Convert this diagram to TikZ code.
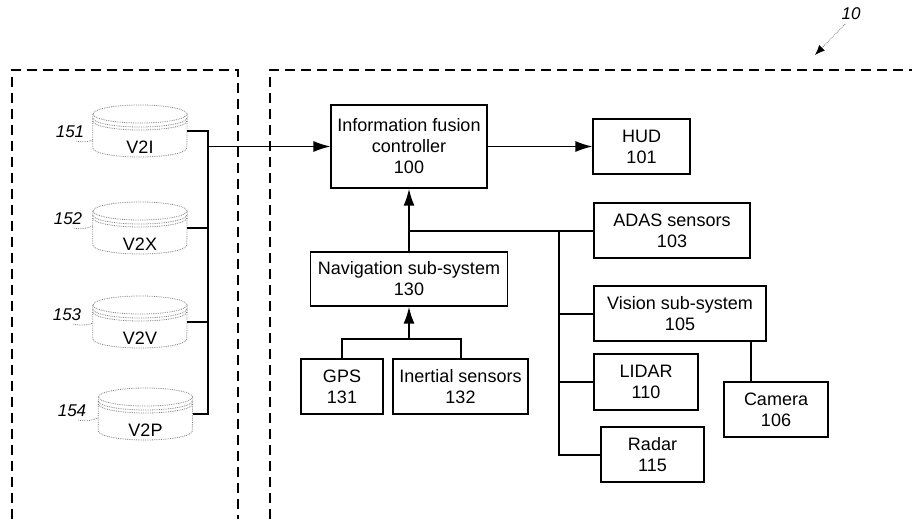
\documentclass[tikz,border=0pt]{standalone}
\usepackage{fontspec}
\setmainfont{Liberation Sans}
\usetikzlibrary{arrows.meta}
\begin{document}
\begin{tikzpicture}[x=1pt,y=-1pt,
 box/.style={draw, line width=1.2pt, align=center, inner sep=0pt, font=\fontsize{18}{21}\selectfont},
 conn/.style={line width=2pt},
 arr/.style={line width=1.3pt, -{Latex[length=17pt,width=11pt]}},
 tarr/.style={line width=2pt, -{Latex[length=17pt,width=11pt]}},
 frame/.style={line width=1.3pt, dash pattern=on 10pt off 6pt},
 cyl/.style={draw=gray, densely dotted, line width=0.8pt},
 cylnode/.style={minimum width=94pt, minimum height=52pt, inner sep=0pt},
 cyltext/.style={font=\fontsize{18}{21}\selectfont},
 ref/.style={font=\fontsize{17}{20}\selectfont\itshape, inner sep=0pt},
 leader/.style={draw=gray, densely dotted, line width=0.8pt}]
\useasboundingbox (0,0) rectangle (912,519);

% frames
\draw[frame] (12,519) -- (12,70) -- (238,70) -- (238,519);
\draw[frame] (270,519) -- (270,70) -- (912,70);

% cylinders
\node[cylnode, label={[cyltext, yshift=-16pt]center:V2I}] (v2i) at (140,131) {};
\node[cylnode, label={[cyltext, yshift=-16pt]center:V2X}] (v2x) at (140,228) {};
\node[cylnode, label={[cyltext, yshift=-16pt]center:V2V}] (v2v) at (140,322) {};
\node[cylnode, label={[cyltext, yshift=-16pt]center:V2P}] (v2p) at (145.5,414) {};
\foreach \n in {v2i,v2x,v2v,v2p}{
  \draw[cyl] ([yshift=17pt]\n.center) ellipse [x radius=47pt, y radius=9pt];
  \draw[cyl] ([yshift=17pt]\n.west) -- ([yshift=-17pt]\n.west)
     arc[start angle=180, end angle=360, x radius=47pt, y radius=9pt]
     -- ([yshift=17pt]\n.east);
  \draw[cyl] ([yshift=13pt]\n.west) arc[start angle=180, end angle=360, x radius=47pt, y radius=9pt];
  \draw[cyl] ([yshift=10pt]\n.west) arc[start angle=180, end angle=360, x radius=47pt, y radius=9pt];
}

% reference labels
\node[ref] (l151) at (70,132) {151};
\node[ref] (l152) at (68,219) {152};
\node[ref] (l153) at (67,315) {153};
\node[ref] (l154) at (72,411) {154};
\draw[leader] ([xshift=-8pt,yshift=-3pt]l151.south east) to[out=-10,in=200] ([yshift=-9pt]v2i.west);
\draw[leader] ([xshift=-8pt,yshift=-3pt]l152.south east) to[out=-10,in=200] ([yshift=2pt]v2x.west);
\draw[leader] ([xshift=-8pt,yshift=-3pt]l153.south east) to[out=-10,in=200] ([yshift=-1pt]v2v.west);
\draw[leader] ([xshift=-8pt,yshift=-3pt]l154.south east) to[out=-10,in=200] ([yshift=-4pt]v2p.west);

\node[ref] (l10) at (851,14) {10};
\coordinate (systip) at (815,55);
\draw[leader, -{Latex[black,length=10pt,width=8pt]}] ([xshift=-6pt,yshift=-4pt]l10.south) -- (systip);

% boxes
\node[box, minimum width=156pt, minimum height=83pt] (ctrl) at (409,146.5) {Information fusion\\controller\\100};
\node[box, minimum width=97pt, minimum height=55pt] (hud) at (641.5,146.5) {HUD\\101};
\node[box, minimum width=156pt, minimum height=55pt] (adas) at (672,230.5) {ADAS sensors\\103};
\node[box, minimum width=172pt, minimum height=55pt] (vision) at (680,313.5) {Vision sub-system\\105};
\node[box, minimum width=104pt, minimum height=56pt] (lidar) at (646,382) {LIDAR\\110};
\node[box, minimum width=104pt, minimum height=55pt] (camera) at (776,409.5) {Camera\\106};
\node[box, minimum width=103pt, minimum height=55pt] (radar) at (652.5,454.5) {Radar\\115};
\node[box, minimum width=197pt, minimum height=54pt] (nav) at (409,279) {Navigation sub-system\\130};
\node[box, minimum width=82pt, minimum height=55pt] (gps) at (342,386.5) {GPS\\131};
\node[box, minimum width=135pt, minimum height=55pt] (inert) at (460.5,386.5) {Inertial sensors\\132};

% left bus
\coordinate (bustop) at (208,131);
\coordinate (busbot) at (208,414);
\draw[conn] (v2i.east) -- (bustop) -- (busbot) -- (v2p.east);
\draw[conn] (v2x.east) -- (v2x.east -| bustop);
\draw[conn] (v2v.east) -- (v2v.east -| bustop);
\draw[arr] (bustop |- ctrl.west) -- (ctrl.west);

\draw[arr] (ctrl.east) -- (hud.west);

% sensor bus
\draw[tarr] (nav.north) -- (ctrl.south);
\coordinate (rb) at (559,230.5);
\draw[conn] (nav.north |- adas.west) -- (adas.west);
\draw[conn] (rb) -- (rb |- radar.west) -- (radar.west);
\draw[conn] (rb |- vision.west) -- (vision.west);
\draw[conn] (rb |- lidar.west) -- (lidar.west);
\draw[conn] ([xshift=-25pt]camera.north) -- ([xshift=-25pt]camera.north |- vision.south);

% navigation inputs
\coordinate (nj) at (409,339);
\draw[conn] (gps.north) -- (gps.north |- nj) -- (inert.north |- nj) -- (inert.north);
\draw[tarr] (nj) -- (nav.south);
\end{tikzpicture}
\end{document}
